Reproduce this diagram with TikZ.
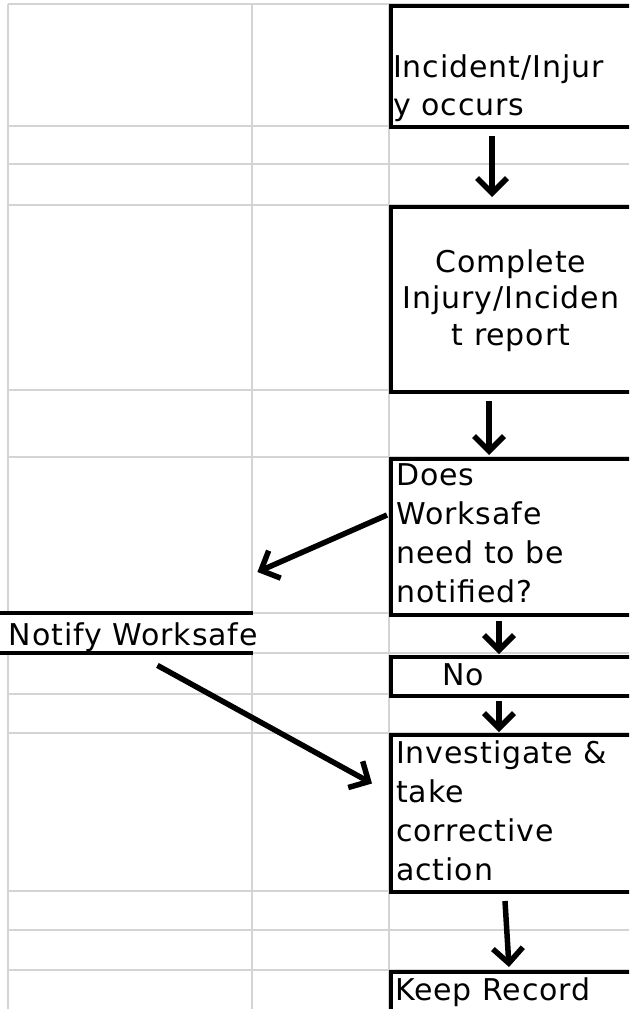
\documentclass[tikz,border=0pt]{standalone}
\usepackage{fontspec}
\setmainfont{DejaVu Sans}[LetterSpace=3]
\usetikzlibrary{arrows.meta,calc}
\definecolor{cellgrid}{HTML}{D4D4D4}
\tikzset{
    cell/.style =   {rectangle,
                    fill=white,
                    draw=black,
                    line width=4pt,
                    inner sep=0pt,
                    anchor=north west},
    celltext/.style = {text=black,
                    inner sep=0pt,
                    font=\fontsize{30}{38}\selectfont},
    gridline/.style = {draw=cellgrid,
                    line width=2pt},
    flow/.style =   {line width=5.5pt,
                    -{Straight Barb[length=15pt,width=30pt]}},
    -,
    x=1pt,
    y=-1pt}

\begin{document}
\begin{tikzpicture}
    \useasboundingbox (0,0) rectangle (629,1009);
    \clip (0,0) rectangle (629,1009);
    % sheet grid
    \draw[gridline] (8,4) -- (8,1009) (252,4) -- (252,1009) (389,4) -- (389,1009)
        (8,4) -- (629,4)     (8,126) -- (629,126) (8,164) -- (629,164)
        (8,205) -- (629,205) (8,390) -- (629,390) (8,457) -- (629,457)
        (8,613) -- (629,613) (8,653) -- (629,653) (8,694) -- (629,694)
        (8,733) -- (629,733) (8,891) -- (629,891) (8,930) -- (629,930)
        (8,970) -- (629,970);
    % boxes
    \node[cell, minimum width=241pt, minimum height=121pt] (occurs)      at (389,4)   {};
    \node[cell, minimum width=241pt, minimum height=185pt] (report)      at (389,205) {};
    \node[cell, minimum width=241pt, minimum height=156pt] (ask)         at (389,457) {};
    \node[cell, minimum width=241pt, minimum height=39pt]  (no)          at (389,655) {};
    \node[cell, minimum width=241pt, minimum height=157pt] (investigate) at (389,733) {};
    \node[cell, minimum width=241pt, minimum height=60pt]  (record)      at (389,970) {};
    \node[fill=white, inner sep=0pt, anchor=north west,
          minimum width=263pt, minimum height=40pt]        (notify)      at (-10,613) {};
    \draw[line width=4pt] (notify.north west) -- (notify.north east)
                          (notify.south west) -- (notify.south east);
    % texts (base = last line)
    \node[celltext, anchor=base west, align=left]   (t1) at (393,115) {Incident/Injur\\y occurs};
    \node[celltext, anchor=base, align=center,
          font=\fontsize{30}{36.5}\selectfont]      (t2) at (511,345) {Complete\\Injury/Inciden\\t report};
    \node[celltext, anchor=base west, align=left,
          font=\fontsize{30}{39}\selectfont]        (t3) at (396,602) {Does\\Worksafe\\need to be\\notified?};
    \node[celltext, anchor=base east]               (t4) at (258,645) {Notify Worksafe};
    \node[celltext, anchor=base west]               (t5) at (442,685) {No};
    \node[celltext, anchor=base west, align=left,
          font=\fontsize{30}{39}\selectfont]        (t6) at (396,880) {Investigate \&\\take\\corrective\\action};
    \node[celltext, anchor=base west]               (t7) at (395,1000) {Keep Record};
    % arrows
    \draw[flow] ($(occurs.south)+(-19.5,7)$) -- ($(report.north)+(-19.5,-8)$);
    \draw[flow] ($(report.south)+(-22.5,7)$) -- ($(ask.north)+(-22.5,-2)$);
    \draw[flow] ($(ask.west)+(-2,-22)$) -- ($(notify.north east)+(4,-41)$);
    \draw[flow] ($(notify.south east)+(-96,12)$) -- ($(investigate.west)+(-17,-30)$);
    \draw[flow] ($(ask.south)+(-12.5,4)$) -- ($(no.north)+(-12.5,-1)$);
    \draw[flow] ($(no.south)+(-12.5,3)$) -- ($(investigate.north)+(-12.5,-1)$);
    \draw[flow] ($(investigate.south)+(-6.5,7)$) -- ($(record.north)+(-2.5,-3)$);
\end{tikzpicture}
\end{document}
